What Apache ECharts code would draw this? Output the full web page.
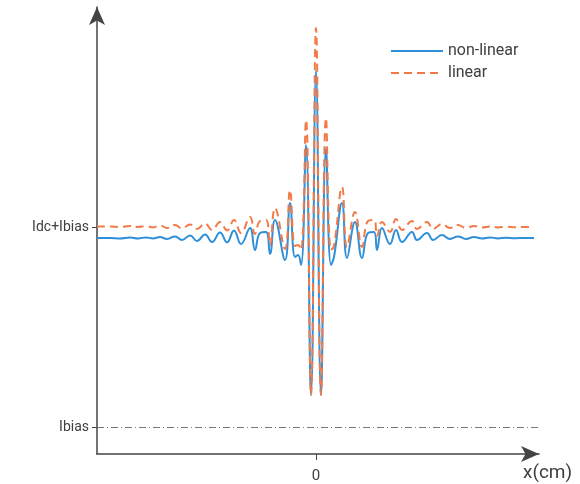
<!DOCTYPE html>
<html>
<head>
<meta charset="utf-8">
<script src="https://cdn.jsdelivr.net/npm/echarts@6/dist/echarts.min.js"></script>
<style>html,body{margin:0;padding:0;background:#fff}#c{width:580px;height:484px}</style>
</head>
<body>
<div id="c"></div>
<script>
// x positions (cm, arbitrary units) shared by both curves
const xValues = [-21.9,-20.6,-19.6,-18.6,-17.8,-17.0,-16.3,-15.6,-14.9,-14.1,
  -13.4,-12.6,-11.9,-11.1,-10.4,-9.6,-8.9,-8.2,-7.5,-6.6,
  -6.1,-5.6,-5.0,-4.6,-4.1,-3.1,-2.6,-2.1,-1.8,-1.5,
  -1.0,-0.5,0,0.5,1.0,1.5,1.8,2.6,3.1,3.9,
  4.6,5.2,5.8,6.1,6.6,7.4,8.0,8.6,9.6,10.1,
  11.1,11.7,12.6,13.4,14.2,15.0,15.8,16.6,17.4,18.2,
  19.0,19.9,20.9,21.8];
// intensity, in units where Ibias = 0 and Idc+Ibias = 10
const nonLinear = [9.45,9.45,9.43,9.48,9.43,9.48,9.43,9.5,9.4,9.53,
  9.35,9.58,9.3,9.63,9.25,9.73,9.23,9.83,9.15,9.95,
  8.85,9.7,9.75,8.65,10.35,8.35,11.2,8.5,8.6,8.1,
  14.1,1.6,17.85,1.6,13.95,8.1,8.5,11.2,8.45,10.25,
  8.45,9.7,9.75,8.85,9.95,9.15,9.85,9.25,9.75,9.35,
  9.7,9.35,9.6,9.4,9.53,9.4,9.5,9.43,9.48,9.43,
  9.46,9.44,9.45,9.45];
const linear = [10.03,10.03,10.0,10.05,10.0,10.05,9.98,10.08,9.95,10.1,
  9.93,10.13,9.9,10.18,9.85,10.25,9.83,10.35,9.7,10.5,
  9.65,10.3,10.35,9.1,10.95,8.9,11.85,9.05,9.1,8.85,
  15.35,1.6,19.95,1.6,15.45,8.85,9.05,12.0,9.0,10.75,
  9.0,10.3,10.35,9.55,10.25,9.75,10.4,9.85,10.3,9.9,
  10.25,9.9,10.15,9.95,10.1,9.95,10.05,9.98,10.03,9.98,
  10.01,9.99,10.0,10.0];
const yTickValues = [0, 10];
const yTickLabels = ['Ibias', 'Idc+Ibias'];
const xTickValues = [0];
const ibiasLevel = 0;

const pair = (xs, ys) => xs.map((x, i) => [x, ys[i]]);
const chart = echarts.init(document.getElementById('c'), null, {renderer: 'canvas'});
const font = 'Roboto, "Liberation Sans", Arial, sans-serif';
chart.setOption({
  animation: false,
  backgroundColor: '#fff',
  grid: {left: 97, right: 41, top: 7, bottom: 30},
  legend: {
    left: 385, top: 38, orient: 'vertical', itemWidth: 52, itemHeight: 14, itemGap: 6,
    itemStyle: {opacity: 0},
    textStyle: {fontSize: 16, color: '#404040', fontFamily: font},
    data: ['non-linear', 'linear']
  },
  xAxis: {
    type: 'value', min: -21.9, max: 22.3,
    axisLine: {show: true, onZero: false, lineStyle: {color: '#444', width: 1.5}, symbol: ['none', 'arrow'], symbolSize: [12, 18], symbolOffset: [0, 0]},
    axisTick: {show: true, customValues: xTickValues, length: 6, lineStyle: {color: '#444'}},
    axisLabel: {customValues: xTickValues, margin: 15, fontSize: 15, color: '#404040', fontFamily: font},
    splitLine: {show: false}
  },
  yAxis: {
    type: 'value', min: -1.35, max: 21,
    axisLine: {show: true, onZero: false, lineStyle: {color: '#444', width: 1.5}, symbol: ['none', 'arrow'], symbolSize: [12, 18]},
    axisTick: {show: true, customValues: yTickValues, length: 5, lineStyle: {color: '#444'}},
    axisLabel: {customValues: yTickValues, margin: 8, fontSize: 14, color: '#404040', fontFamily: font,
      formatter: v => yTickLabels[yTickValues.indexOf(v)] || ''},
    splitLine: {show: false}
  },
  graphic: [{type: 'text', left: 523, top: 464, style: {text: 'x(cm)', font: '19px ' + font, fill: '#404040'}}],
  series: [
    {
      name: 'non-linear', type: 'line', data: pair(xValues, nonLinear), symbol: 'none', smooth: 0.45,
      lineStyle: {color: '#2f8fd8', width: 2}, itemStyle: {color: '#2f8fd8'}, z: 2,
      markLine: {silent: true, symbol: 'none', label: {show: false},
        lineStyle: {color: '#777', width: 1, type: [7, 3, 1, 3]}, data: [{yAxis: ibiasLevel}]}
    },
    {
      name: 'linear', type: 'line', data: pair(xValues, linear), symbol: 'none', smooth: 0.45,
      lineStyle: {color: '#f27a48', width: 2, type: [8, 5]}, itemStyle: {color: '#f27a48'}, z: 3
    }
  ]
});
</script>
</body>
</html>
